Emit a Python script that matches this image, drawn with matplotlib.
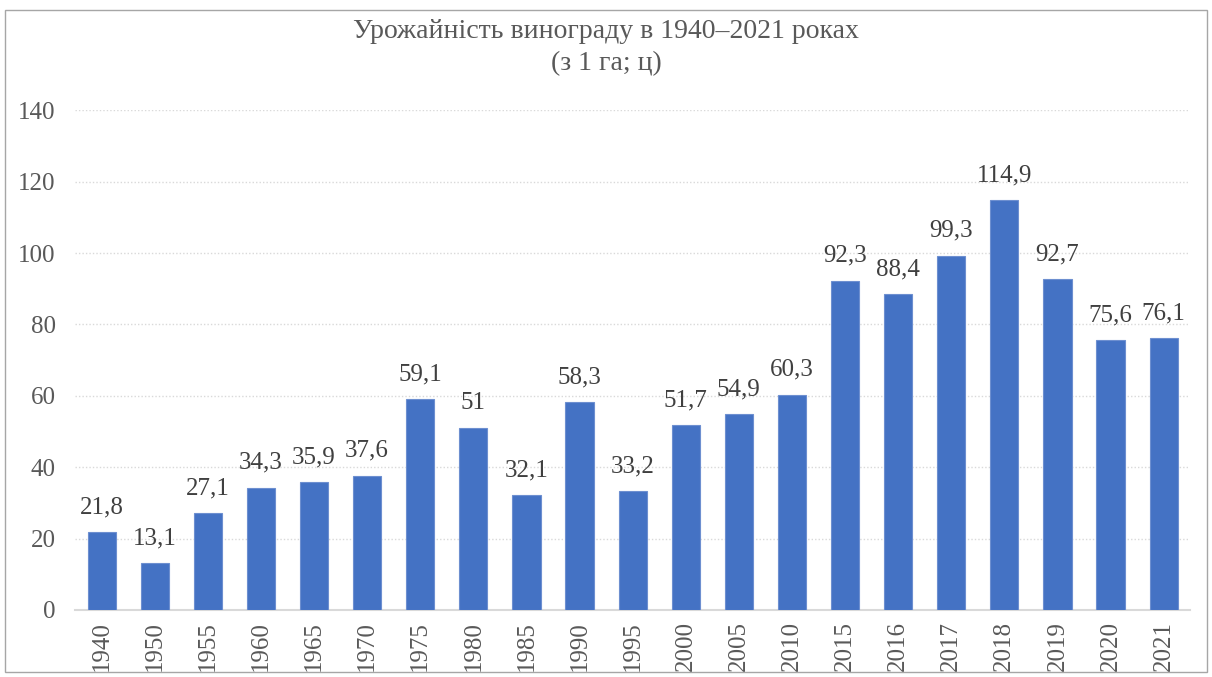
import matplotlib.pyplot as plt
from matplotlib.patches import Rectangle

# роки та врожайність (ц з 1 га)
years = ["1940", "1950", "1955", "1960", "1965", "1970", "1975", "1980", "1985", "1990",
         "1995", "2000", "2005", "2010", "2015", "2016", "2017", "2018", "2019", "2020", "2021"]
values = [21.8, 13.1, 27.1, 34.3, 35.9, 37.6, 59.1, 51, 32.1, 58.3,
          33.2, 51.7, 54.9, 60.3, 92.3, 88.4, 99.3, 114.9, 92.7, 75.6, 76.1]
labels = ["21,8", "13,1", "27,1", "34,3", "35,9", "37,6", "59,1", "51", "32,1", "58,3",
          "33,2", "51,7", "54,9", "60,3", "92,3", "88,4", "99,3", "114,9", "92,7", "75,6", "76,1"]

plt.rcParams['font.family'] = ['Liberation Serif', 'DejaVu Serif']
txt = "#595959"

fig = plt.figure(figsize=(12.12, 6.77), dpi=100)
ax = fig.add_axes([0.062, 0.099, 0.92, 0.738])

x = range(len(years))
bars = ax.bar(x, values, width=0.53, color="#4472C4", edgecolor="#6D8FD0",
              linewidth=0.8, zorder=3)
for b, lab in zip(bars, labels):
    ax.annotate(lab, (b.get_x() + b.get_width() / 2, b.get_height()),
                xytext=(0, 10), textcoords="offset points", ha="center", va="bottom",
                fontsize=18, color="#404040")

ax.set_xlim(-0.5, len(years) - 0.5)
ax.set_ylim(0, 140)
ax.set_yticks(range(0, 141, 20))
ax.set_xticks(list(x))
ax.set_xticklabels(years, rotation=90)
ax.tick_params(axis="both", length=0, labelsize=18, colors=txt)
ax.tick_params(axis="y", pad=14)
ax.tick_params(axis="x", pad=8)

ax.grid(axis="y", color="#D9D9D9", linestyle=(0, (1, 1.5)), linewidth=1, zorder=0)
for s in ["top", "right", "left"]:
    ax.spines[s].set_visible(False)
ax.spines["bottom"].set_color("#D9D9D9")
ax.spines["bottom"].set_linewidth(1.5)

fig.text(0.5, 0.972, "Урожайність винограду в 1940–2021 роках\n(з 1 га; ц)",
         ha="center", va="top", fontsize=20, color=txt, linespacing=1.35)

# рамка навколо діаграми
fig.patches.append(Rectangle((0.004, 0.007), 0.992, 0.978, transform=fig.transFigure,
                             fill=False, edgecolor="#A6A6A6", linewidth=1))

fig.savefig("out.png", dpi=100)
